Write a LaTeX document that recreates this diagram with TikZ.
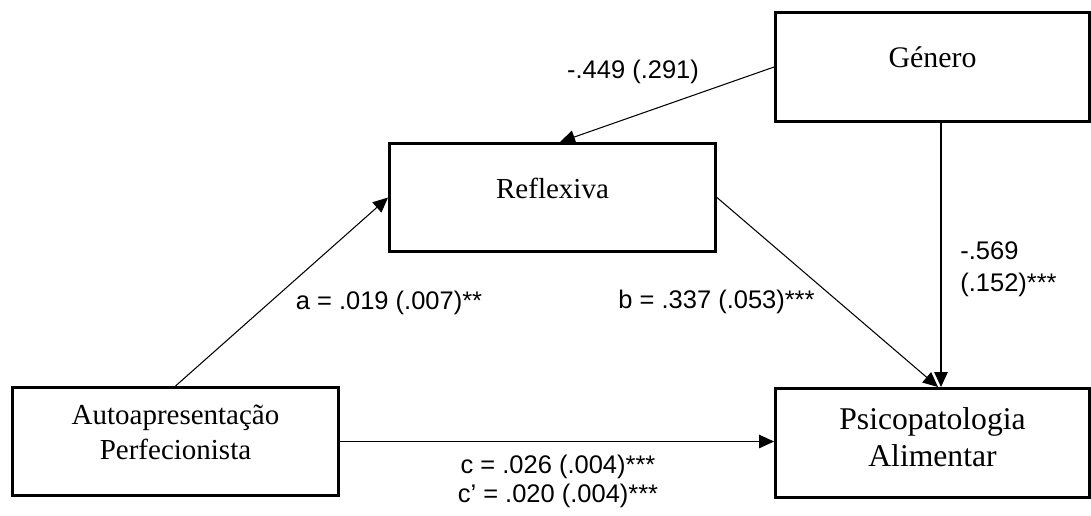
\documentclass[tikz,border=0pt]{standalone}
\usepackage{fontspec}
\setmainfont{Liberation Serif}
\setsansfont{Liberation Sans}
\usepackage{tikz}
\usetikzlibrary{arrows.meta,calc}

\begin{document}
\begin{tikzpicture}[
    x=0.02cm, y=-0.02cm,
    box/.style={rectangle, draw=black, line width=1.7pt, minimum height=2.18cm, inner sep=0pt},
    boxtext/.style={align=center, font=\fontsize{16.5}{19.9}\selectfont},
    coef/.style={font=\sffamily\fontsize{14.5}{17}\selectfont, inner sep=0pt},
    arrow/.style={-{Triangle[length=0.3cm,width=0.27cm]}, line width=0.6pt}
]
    \useasboundingbox (0,0) rectangle (1091,515);

    % variables
    \node[box, minimum width=6.28cm, label={[boxtext, font=\fontsize{17}{20.4}\selectfont, yshift=0.2cm]center:Género}] (genero) at (932.5,67) {};
    \node[box, minimum width=6.52cm, minimum height=2.16cm, label={[boxtext, yshift=0.19cm]center:Reflexiva}] (refl) at (552.5,197.5) {};
    \node[box, minimum width=6.52cm, minimum height=2.16cm, label={[boxtext, yshift=0.19cm]center:Autoapresentação\\Perfecionista}] (auto) at (175.5,441.5) {};
    \node[box, minimum width=6.28cm, label={[boxtext, font=\fontsize{18}{21}\selectfont, yshift=0.12cm]center:Psicopatologia\\Alimentar}] (psico) at (932.5,443) {};

    % paths
    \draw[arrow] (auto.north) -- (refl.west);
    \draw[arrow] (genero.west) -- ([xshift=0.15cm]refl.north);
    \draw[arrow] (refl.east) -- ([xshift=0.11cm]psico.north);
    \draw[arrow] ([xshift=0.17cm]genero.south) -- ([xshift=0.17cm]psico.north);
    \draw[arrow] (auto.east) -- (auto.east -| psico.west);

    % coefficients
    \node[coef] (lgen) at (633,72) {-.449 (.291)};
    \node[coef] (la) at (389,303) {a = .019 (.007)**};
    \node[coef] (lb) at (716.5,302) {b = .337 (.053)***};
    \node[coef, align=left, anchor=west, font=\sffamily\fontsize{14.5}{18.2}\selectfont] (lgp) at (960,269) {-.569\\(.152)***};
    \node[coef, align=center, font=\sffamily\fontsize{14.5}{16.5}\selectfont] (lc) at (558,481.5) {c = .026 (.004)***\\c’ = .020 (.004)***};
\end{tikzpicture}
\end{document}
